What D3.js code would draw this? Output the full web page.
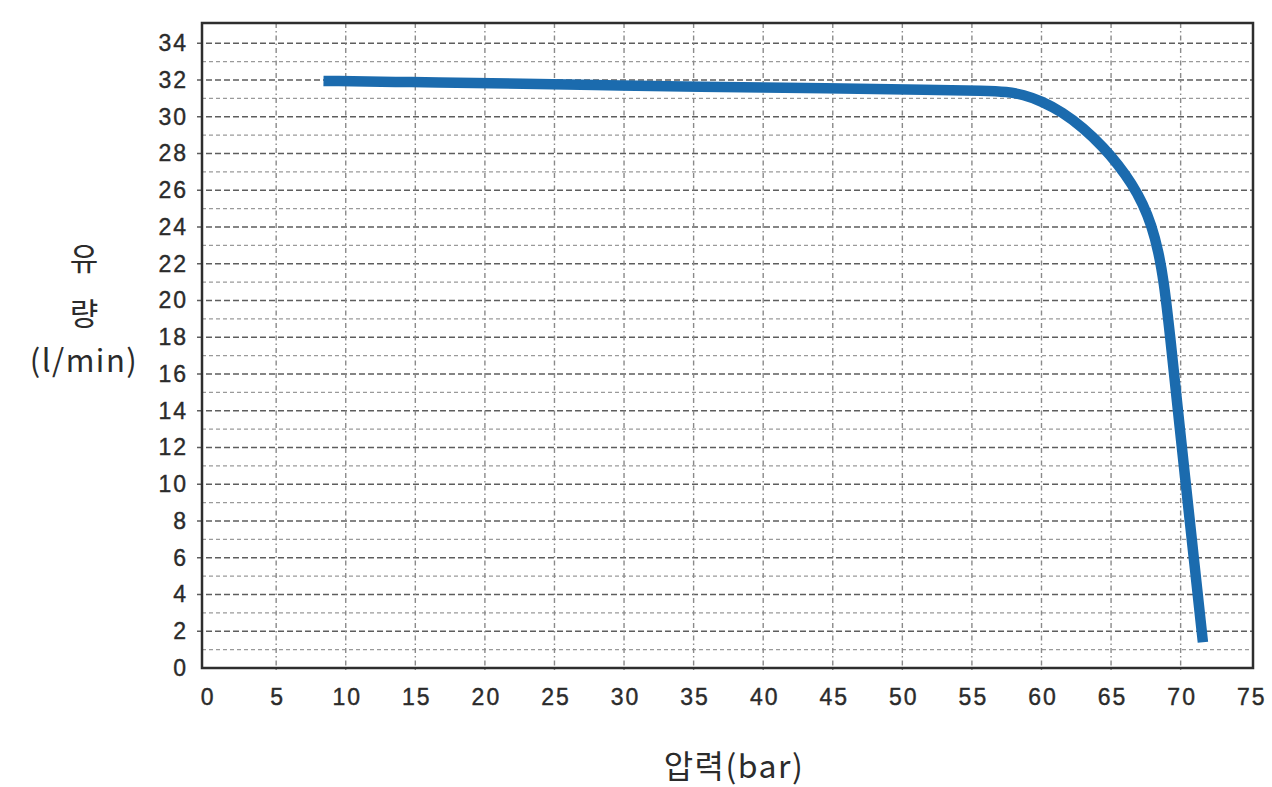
<!DOCTYPE html>
<html>
<head>
<meta charset="utf-8">
<script src="https://cdn.jsdelivr.net/npm/d3@7"></script>
<style>
  html, body { margin: 0; padding: 0; background: #fff; }
  svg { display: block; }
</style>
</head>
<body>
<svg id="chart" width="1272" height="787"></svg>
<script>
// ---- data ----
const pressure = [8.4, 15, 20, 28, 35, 45, 52, 56, 57.5, 58.7, 60, 61.5, 63, 64.5, 65.5, 66.5, 67.3, 67.9, 68.4, 68.8, 69.2, 70, 71, 71.6];
const flow     = [31.95, 31.88, 31.83, 31.72, 31.63, 31.54, 31.47, 31.42, 31.36, 31.2, 30.85, 30.25, 29.4, 28.3, 27.4, 26.35, 25.25, 24.1, 22.7, 21.0, 18.4, 12.6, 5.6, 1.4];
const xTicks = [0, 5, 10, 15, 20, 25, 30, 35, 40, 45, 50, 55, 60, 65, 70, 75];
const yTicks = [0, 2, 4, 6, 8, 10, 12, 14, 16, 18, 20, 22, 24, 26, 28, 30, 32, 34];
const yMinor = [1, 3, 5, 7, 9, 11, 13, 15, 17, 19, 21, 23, 25, 27, 29, 31, 33];
const xTitle = "압력(bar)";
const yTitleLines = ["유", "량", "(l/min)"];

// ---- layout ----
const L = 202, R = 1253, T = 23, B = 668;
const svg = d3.select("#chart");
const x = d3.scaleLinear().domain([-0.33, 75.2]).range([L, R]);
const y = d3.scaleLinear().domain([0, 35.1]).range([B, T]);
const font = "'Liberation Sans', Arial, Helvetica, sans-serif";
const kfont = "'Noto Sans CJK KR', 'Liberation Sans', sans-serif";

// minor horizontal grid (odd values)
svg.append("g").selectAll("line").data(yMinor).join("line")
  .attr("x1", L).attr("x2", R)
  .attr("y1", d => y(d)).attr("y2", d => y(d))
  .attr("stroke", "#9a9a9a").attr("stroke-width", 1.4)
  .attr("stroke-dasharray", "4,3");

// major horizontal grid (even values)
svg.append("g").selectAll("line").data(yTicks.filter(d => d > 0)).join("line")
  .attr("x1", L - 5).attr("x2", R)
  .attr("y1", d => y(d)).attr("y2", d => y(d))
  .attr("stroke", "#5e5e5e").attr("stroke-width", 1.4)
  .attr("stroke-dasharray", "6,3");

// vertical grid
svg.append("g").selectAll("line").data(xTicks.filter(d => d > 0 && d < 75)).join("line")
  .attr("x1", d => x(d)).attr("x2", d => x(d))
  .attr("y1", T).attr("y2", B + 5)
  .attr("stroke", "#8a8a8a").attr("stroke-width", 1.4)
  .attr("stroke-dasharray", "5,3,1.5,3");

// axes labels via d3 axes
const xAxis = svg.append("g").attr("transform", `translate(0,${B})`)
  .call(d3.axisBottom(x).tickValues(xTicks).tickSize(0).tickPadding(21));
xAxis.select(".domain").remove();
xAxis.selectAll("text").attr("font-family", font).attr("font-size", 23)
  .attr("letter-spacing", 2).attr("dx", 1).attr("fill", "#2b2b2b")
  .attr("stroke", "#2b2b2b").attr("stroke-width", 0.4);

const yAxis = svg.append("g").attr("transform", `translate(${L},0)`)
  .call(d3.axisLeft(y).tickValues(yTicks).tickSize(0).tickPadding(14));
yAxis.select(".domain").remove();
yAxis.selectAll("text").attr("font-family", font).attr("font-size", 23)
  .attr("letter-spacing", 2).attr("fill", "#2b2b2b")
  .attr("stroke", "#2b2b2b").attr("stroke-width", 0.4);

// frame
svg.append("rect").attr("x", L).attr("y", T).attr("width", R - L).attr("height", B - T)
  .attr("fill", "none").attr("stroke", "#2e2e2e").attr("stroke-width", 2.5);

// curve
const pts = pressure.map((p, i) => [p, flow[i]]);
const line = d3.line().x(d => x(d[0])).y(d => y(d[1])).curve(d3.curveBasis);
svg.append("path").datum(pts).attr("d", line)
  .attr("fill", "none").attr("stroke", "#1b6bae").attr("stroke-width", 10.5)
  .attr("stroke-linecap", "butt").attr("stroke-linejoin", "round");

// titles
svg.append("text").attr("x", 734).attr("y", 778).attr("text-anchor", "middle")
  .attr("font-family", kfont).attr("font-size", 32).attr("letter-spacing", 1.5).attr("fill", "#2b2b2b")
  .text(xTitle);

const yPos = [270, 325, 372];
yTitleLines.forEach((t, i) => {
  svg.append("text").attr("x", 84).attr("y", yPos[i]).attr("text-anchor", "middle")
    .attr("font-family", kfont).attr("font-size", 31).attr("letter-spacing", i === 2 ? 1.5 : 0).attr("fill", "#2b2b2b")
    .text(t);
});
</script>
</body>
</html>
